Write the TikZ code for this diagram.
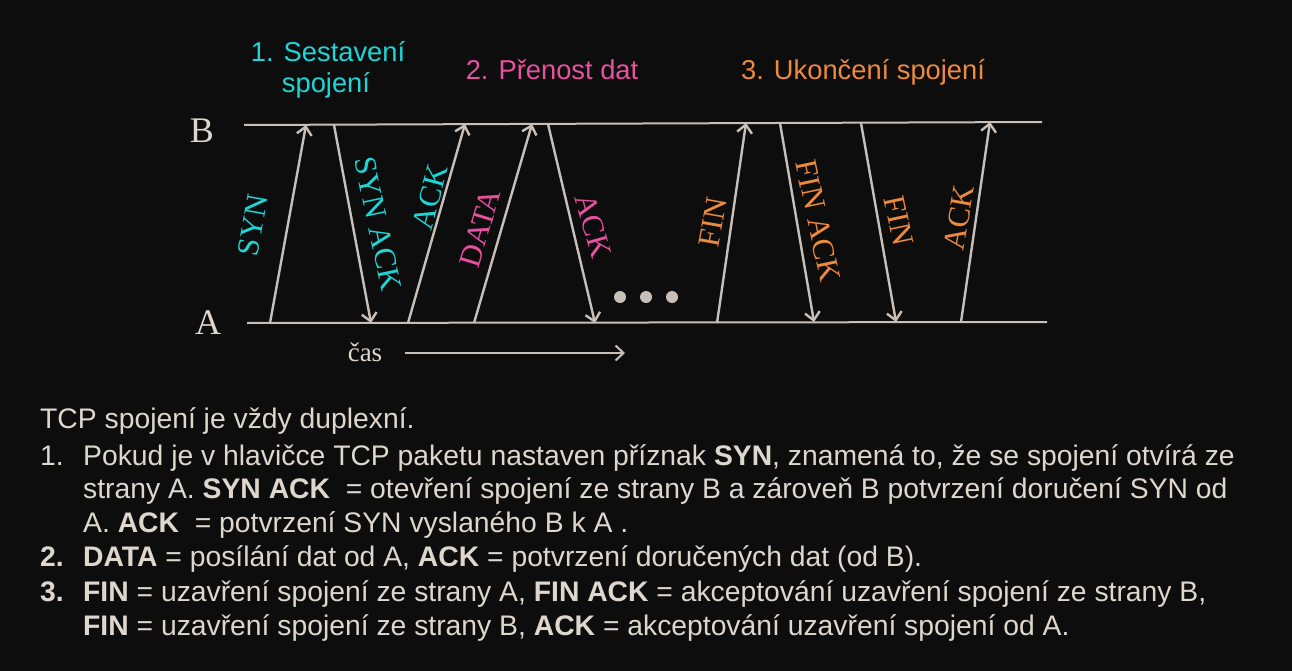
\documentclass[tikz,border=0pt]{standalone}
\usepackage{fontspec}
\setmainfont{Liberation Serif}
\newfontfamily\sansf{Liberation Sans}
\usetikzlibrary{arrows.meta}
\definecolor{bg}{RGB}{14,13,13}
\definecolor{ln}{RGB}{200,192,184}
\definecolor{txt}{RGB}{222,215,206}
\definecolor{cy}{RGB}{30,214,214}
\definecolor{pk}{RGB}{232,80,160}
\definecolor{og}{RGB}{238,138,62}
\begin{document}
\begin{tikzpicture}[x=1pt,y=-1pt,
  axis/.style={draw=ln, line width=2pt},
  msg/.style={draw=ln, line width=2.4pt, -{Straight Barb[length=8pt,width=15pt]}},
  lbl/.style={font=\fontsize{31}{31}\selectfont, inner sep=0pt},
  side/.style={font=\fontsize{36}{36}\selectfont, text=txt, inner sep=0pt},
  ttl/.style={font=\sansf\fontsize{27.3}{32}\selectfont, anchor=base, inner sep=0pt},
  body/.style={font=\sansf\fontsize{28.3}{34}\selectfont, text=txt, anchor=base west, inner sep=0pt},
  dot/.style={circle, fill=ln, minimum size=12pt, inner sep=0pt},
]
\useasboundingbox (0,0) rectangle (1292,671);
\fill[bg] (0,0) rectangle (1292,671);

% titles
\node[ttl, text=cy] (t1a) at (328,62) {1. Sestavení};
\node[ttl, text=cy] (t1b) at (326,93) {spojení};
\node[ttl, text=pk] (t2) at (552,80) {2. Přenost dat};
\node[ttl, text=og] (t3) at (863,80) {3. Ukončení spojení};

% time lines
\coordinate (B0) at (244,125);
\coordinate (B1) at (1042,122);
\coordinate (A0) at (247,323);
\coordinate (A1) at (1047,322);
\draw[axis] (B0) -- (B1);
\draw[axis] (A0) -- (A1);
\node[side] (lB) at (202,131) {B};
\node[side] (lA) at (208,323) {A};

% message endpoints
\coordinate (a1) at (270,323); \coordinate (b1) at (306,125);
\coordinate (b2) at (334,125); \coordinate (a2) at (371,323);
\coordinate (a3) at (408,323); \coordinate (b3) at (465,124);
\coordinate (a4) at (474,323); \coordinate (b4) at (532,124);
\coordinate (b5) at (548,124); \coordinate (a5) at (595,323);
\coordinate (a6) at (717,323); \coordinate (b6) at (746,123);
\coordinate (b7) at (780,123); \coordinate (a7) at (814,322);
\coordinate (b8) at (861,123); \coordinate (a8) at (896,322);
\coordinate (a9) at (961,322); \coordinate (b9) at (990,122);

\draw[msg] (a1) -- (b1);
\draw[msg] (b2) -- (a2);
\draw[msg] (a3) -- (b3);
\draw[msg] (a4) -- (b4);
\draw[msg] (b5) -- (a5);
\draw[msg] (a6) -- (b6);
\draw[msg] (b7) -- (a7);
\draw[msg] (b8) -- (a8);
\draw[msg] (a9) -- (b9);

% labels
\node[lbl, text=cy, rotate=80]  (m1) at (253,225) {SYN};
\node[lbl, text=cy, rotate=-78] (m2) at (378,224) {SYN ACK};
\node[lbl, text=cy, rotate=75]  (m3) at (430,197) {ACK};
\node[lbl, text=pk, rotate=73]  (m4) at (480,228) {DATA};
\node[lbl, text=pk, rotate=-74] (m5) at (593,226) {ACK};
\node[lbl, text=og, rotate=80]  (m6) at (713,222) {FIN};
\node[lbl, text=og, rotate=-78] (m7) at (818,221) {FIN ACK};
\node[lbl, text=og, rotate=-78] (m8) at (899,221) {FIN};
\node[lbl, text=og, rotate=80]  (m9) at (959,218) {ACK};

% dots
\node[dot] (d1) at (620,297) {};
\node[dot] (d2) at (646,297) {};
\node[dot] (d3) at (672,297) {};

% time arrow
\node[font=\fontsize{27}{27}\selectfont, text=txt, anchor=base, inner sep=0pt] (cas) at (365,361) {čas};
\coordinate (c0) at (405,353);
\coordinate (c1) at (625,353);
\draw[msg, line width=2pt] (c0) -- (c1);

% body text
\node[body] (l1) at (40,428) {TCP spojení je vždy duplexní.};
\node[body] (n1) at (40,465) {1.};
\node[body] (l2) at (83,465) {Pokud je v hlavičce TCP paketu nastaven příznak \textbf{SYN}, znamená to, že se spojení otvírá ze};
\node[body] (l3) at (83,498) {strany A. \textbf{SYN ACK}\ \ = otevření spojení ze strany B a zároveň B potvrzení doručení SYN od};
\node[body] (l4) at (83,532) {A. \textbf{ACK}\ \ = potvrzení SYN vyslaného B k A .};
\node[body] (n2) at (40,566) {\textbf{2.}};
\node[body] (l5) at (83,566) {\textbf{DATA} = posílání dat od A, \textbf{ACK} = potvrzení doručených dat (od B).};
\node[body] (n3) at (40,601) {\textbf{3.}};
\node[body] (l6) at (83,601) {\textbf{FIN} = uzavření spojení ze strany A, \textbf{FIN ACK} = akceptování uzavření spojení ze strany B,};
\node[body] (l7) at (83,635) {\textbf{FIN} = uzavření spojení ze strany B, \textbf{ACK} = akceptování uzavření spojení od A.};
\end{tikzpicture}
\end{document}
